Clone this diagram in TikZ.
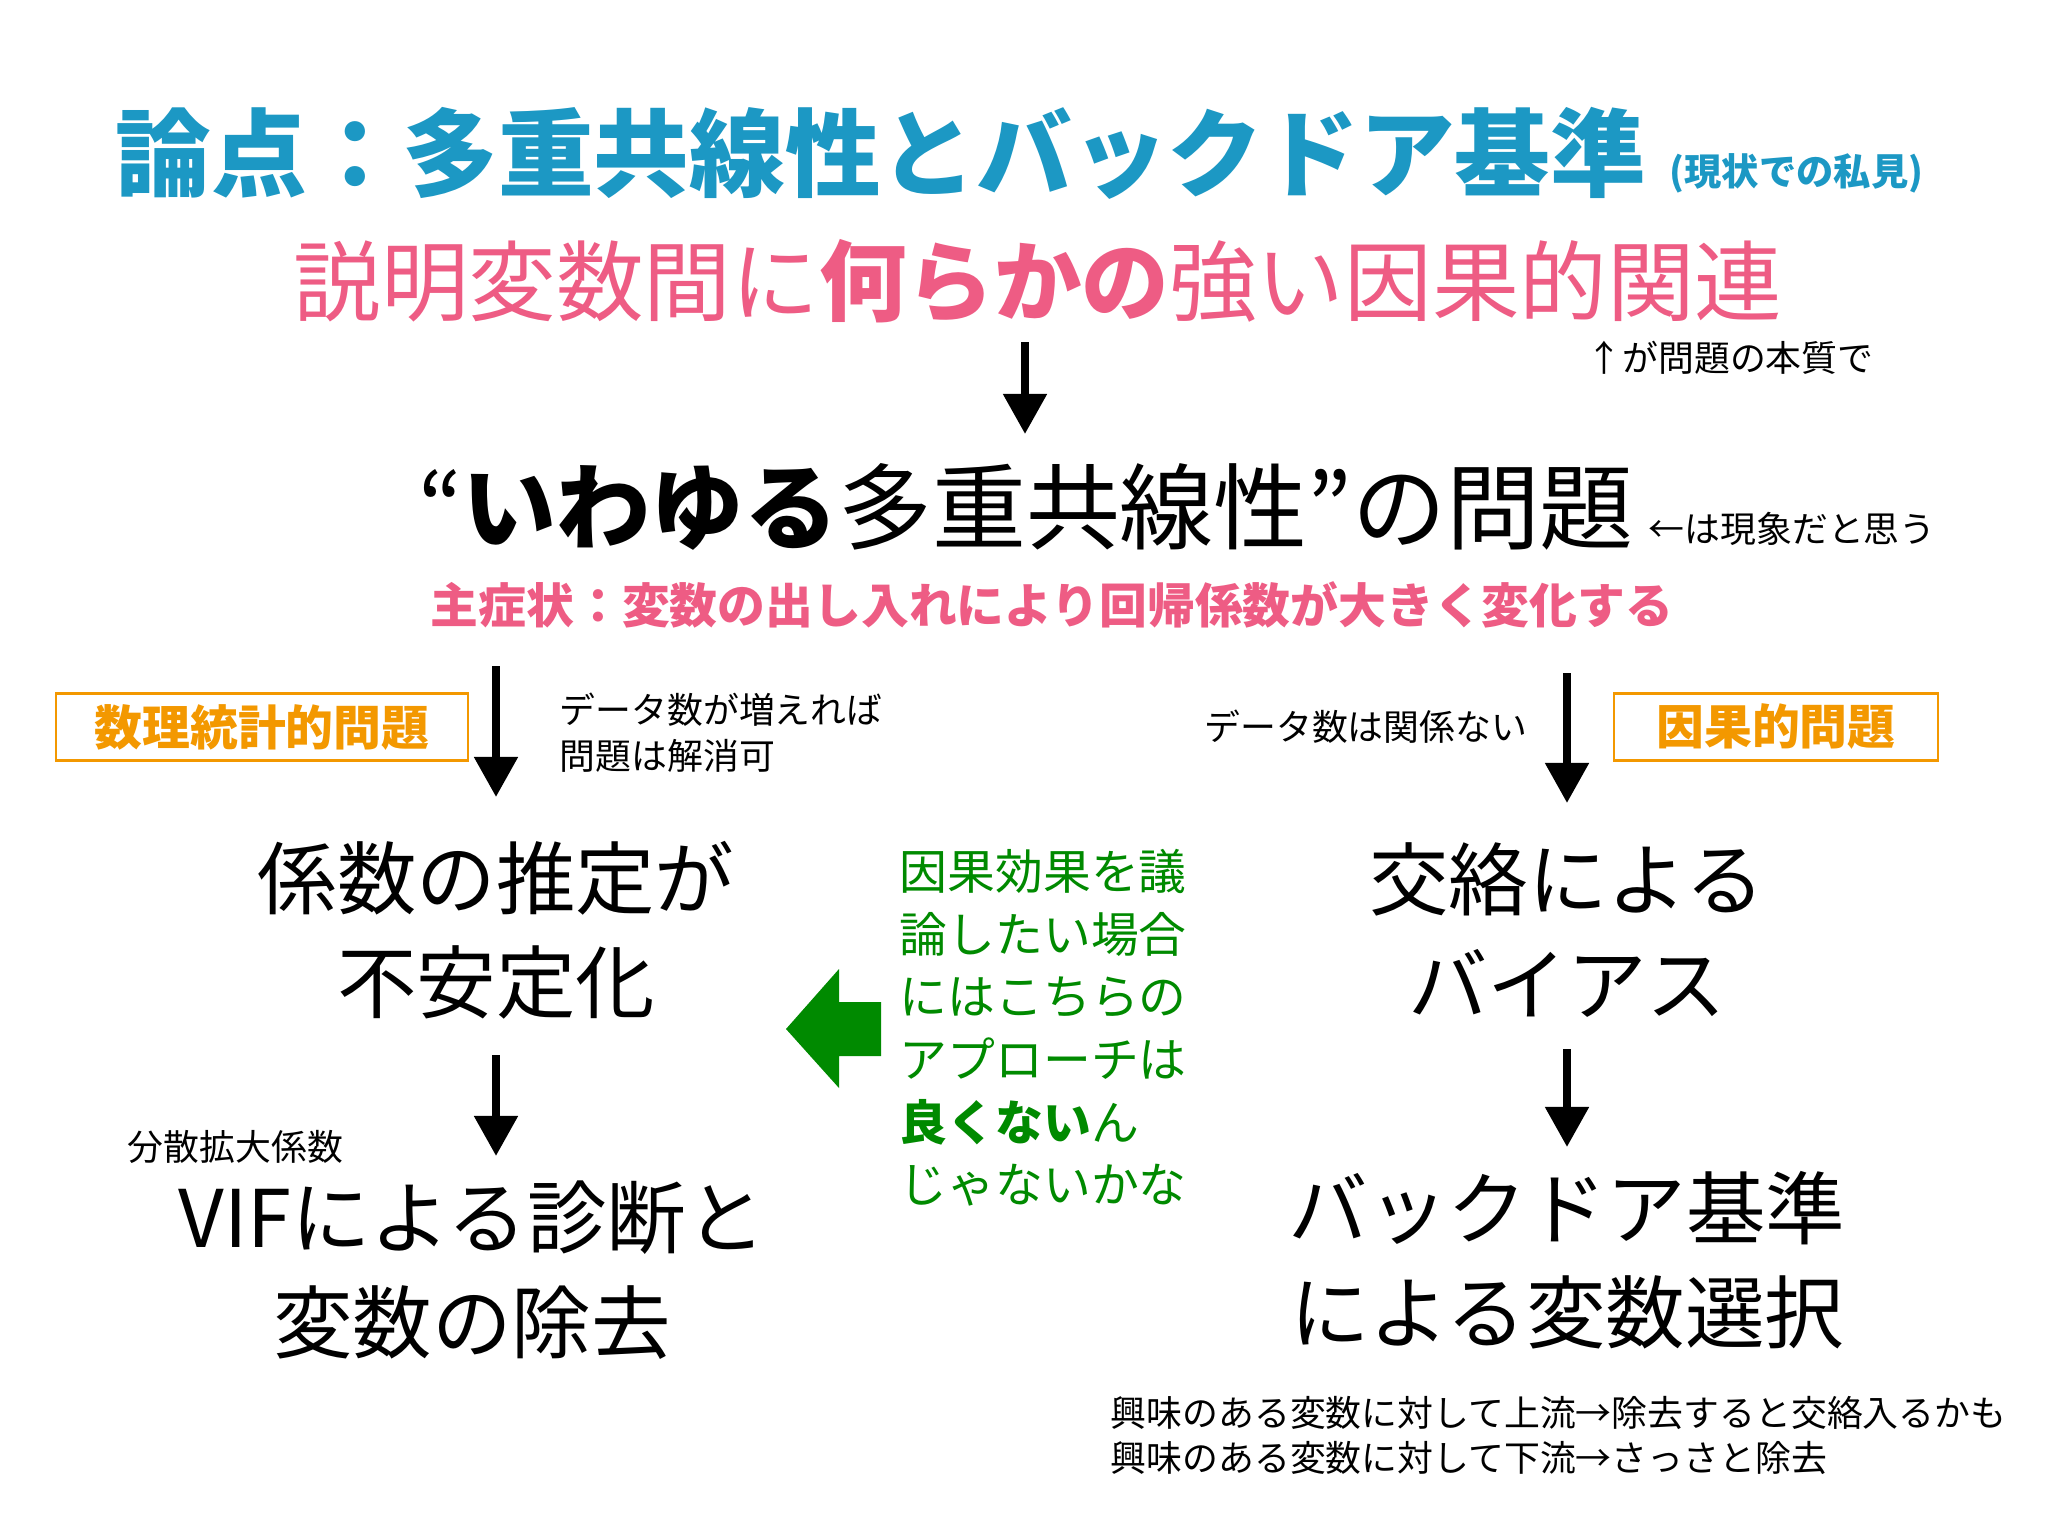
\documentclass[tikz,border=0pt]{standalone}
\usepackage{fontspec}
\setmainfont{Noto Sans CJK JP}
\usetikzlibrary{arrows.meta}
\definecolor{titleblue}{RGB}{28,152,196}
\definecolor{keypink}{RGB}{238,92,132}
\definecolor{boxorange}{RGB}{243,152,0}
\definecolor{notegreen}{RGB}{0,138,0}

\begin{document}
\begin{tikzpicture}[x=0.01cm, y=-0.01cm,
	bigarrow/.style={line width=2.3pt, -{Triangle[length=0.4cm, width=0.42cm]}},
	probbox/.style={draw=boxorange, line width=0.6pt, inner sep=0, text=boxorange,
		font=\fontsize{13.6}{16}\selectfont\bfseries},
	smallnote/.style={inner sep=0, font=\fontsize{10.2}{13.1}\selectfont},
	mainbox/.style={inner sep=0, align=center, font=\fontsize{22.6}{29.7}\selectfont}]
			%%%%% START %%%%%
			
			\useasboundingbox[fill=white] (0, 0) rectangle (2048, 1536);
			
			% title
			\node[anchor=west, inner sep=0, text=titleblue, font=\fontsize{27.2}{32}\selectfont\bfseries] (title) at (115, 153) {論点：多重共線性とバックドア基準};
			\node[anchor=west, inner sep=0, text=titleblue, font=\fontsize{10.6}{13}\selectfont\bfseries] (opinion) at (1669, 173) {(現状での私見)};
			
			% cause
			\node[inner sep=0, text=keypink, font=\fontsize{24.9}{30}\selectfont] (cause) at (1038, 281) {説明変数間に\textbf{何らかの}強い因果的関連};
			\coordinate (a1s) at (1025, 342);
			\coordinate (a1e) at (1025, 434);
			\draw[bigarrow] (a1s) -- (a1e);
			\node[smallnote] (essence) at (1730, 358) {↑が問題の本質で};
			
			% so-called multicollinearity
			\node[inner sep=0, font=\fontsize{26.7}{32}\selectfont] (multico) at (1026, 507) {“\textbf{いわゆる}多重共線性”の問題};
			\node[smallnote, anchor=west] (phenom) at (1648, 529) {←は現象だと思う};
			\node[inner sep=0, text=keypink, font=\fontsize{13.6}{16}\selectfont\bfseries] (symptom) at (1052, 605) {主症状：変数の出し入れにより回帰係数が大きく変化する};
			
			% left branch
			\node[probbox, minimum width=4.11cm, minimum height=0.67cm] (statbox) at (262, 727) {数理統計的問題};
			\coordinate (l1s) at (496, 666);
			\coordinate (l1e) at (496, 797);
			\draw[bigarrow] (l1s) -- (l1e);
			\node[smallnote, anchor=west, align=left] (moredata) at (559, 733) {データ数が増えれば\\問題は解消可};
			\node[mainbox] (unstable) at (496, 930) {係数の推定が\\不安定化};
			\coordinate (l2s) at (496, 1055);
			\coordinate (l2e) at (496, 1156);
			\draw[bigarrow] (l2s) -- (l2e);
			\node[smallnote, anchor=west] (vifname) at (127, 1147) {分散拡大係数};
			\node[mainbox] (vif) at (472, 1270) {VIFによる診断と\\変数の除去};
			
			% right branch
			\node[smallnote, anchor=east] (nodata) at (1528, 727) {データ数は関係ない};
			\coordinate (r1s) at (1567, 673);
			\coordinate (r1e) at (1567, 803);
			\draw[bigarrow] (r1s) -- (r1e);
			\node[probbox, minimum width=3.24cm, minimum height=0.67cm] (causebox) at (1776, 727) {因果的問題};
			\node[mainbox] (bias) at (1567, 930) {交絡による\\バイアス};
			\coordinate (r2s) at (1567, 1049);
			\coordinate (r2e) at (1567, 1147);
			\draw[bigarrow] (r2s) -- (r2e);
			\node[mainbox] (backdoor) at (1567, 1260) {バックドア基準\\による変数選択};
			\node[smallnote, anchor=west, align=left, font=\fontsize{10.2}{12.8}\selectfont] (updown) at (1110, 1435) {興味のある変数に対して上流→除去すると交絡入るかも\\興味のある変数に対して下流→さっさと除去};
			
			% middle comment
			\fill[notegreen] (786, 1029) -- (839, 969) -- (839, 1002) -- (881, 1002) -- (881, 1056) -- (839, 1056) -- (839, 1088) -- cycle;
			\node[inner sep=0, anchor=west, align=left, text=notegreen, font=\fontsize{13.6}{17.8}\selectfont] (comment) at (899, 1028) {因果効果を議\\論したい場合\\にはこちらの\\アプローチは\\\textbf{良くない}ん\\じゃないかな};
			
			%%%%% END %%%%%
		\end{tikzpicture}
\end{document}
